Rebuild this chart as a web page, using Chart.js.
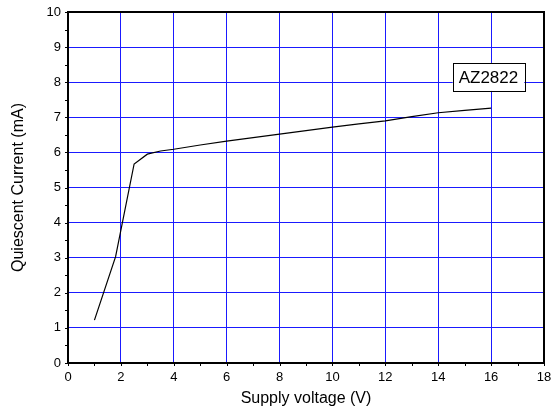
<!DOCTYPE html>
<html>
<head>
<meta charset="utf-8">
<script src="https://cdn.jsdelivr.net/npm/chart.js@4/dist/chart.umd.min.js"></script>
<style>
  html, body { margin: 0; padding: 0; background: #fff; }
  #wrap { width: 551px; height: 417px; }
</style>
</head>
<body>
<div id="wrap"><canvas id="chart" width="551" height="417"></canvas></div>
<script>
// ----------------- DATA -----------------
const voltage = [1.0, 1.8, 2.5, 3.0, 3.5, 4, 5, 6, 7, 8, 9, 10, 11, 12, 13, 14, 15, 16];
const current = [1.22, 3.03, 5.67, 5.95, 6.04, 6.09, 6.21, 6.32, 6.42, 6.52, 6.62, 6.72, 6.81, 6.90, 7.02, 7.13, 7.20, 7.26];
const xTicks = [0, 2, 4, 6, 8, 10, 12, 14, 16, 18];
const yTicks = [0, 1, 2, 3, 4, 5, 6, 7, 8, 9, 10];
const seriesLabel = "AZ2822";
const labelAt = [15.9, 8.15];

const FONT = "Arial, 'Liberation Sans', sans-serif";

// frame, outward minor ticks and the series label box
const framePlugin = {
    id: "frame",
    afterDraw(chart) {
        const ctx = chart.ctx;
        const a = chart.chartArea;
        const xs = chart.scales.x, ys = chart.scales.y;
        ctx.save();
        ctx.strokeStyle = "#000";
        ctx.lineWidth = 1;
        ctx.beginPath();
        for (let v = 0; v <= 18; v += 1) {
            const px = Math.round(xs.getPixelForValue(v)) + 0.5;
            ctx.moveTo(px, a.bottom); ctx.lineTo(px, a.bottom + 3);
        }
        for (let v = 0; v <= 10; v += 0.5) {
            const py = Math.round(ys.getPixelForValue(v)) + 0.5;
            ctx.moveTo(a.left, py); ctx.lineTo(a.left - 3, py);
        }
        ctx.stroke();
        ctx.lineWidth = 2;
        ctx.strokeRect(a.left, a.top, a.right - a.left, a.bottom - a.top);

        // series label
        const cx = xs.getPixelForValue(labelAt[0]);
        const cy = ys.getPixelForValue(labelAt[1]);
        ctx.font = "17px " + FONT;
        const w = ctx.measureText(seriesLabel).width + 12;
        const h = 28;
        ctx.fillStyle = "#fff";
        ctx.fillRect(cx - w / 2, cy - h / 2, w, h);
        ctx.lineWidth = 1;
        ctx.strokeRect(Math.round(cx - w / 2) + 0.5, Math.round(cy - h / 2) + 0.5, Math.round(w), h);
        ctx.fillStyle = "#000";
        ctx.textAlign = "center";
        ctx.textBaseline = "middle";
        ctx.fillText(seriesLabel, cx, cy + 1);
        ctx.restore();
    }
};

// ----------------- CHART -----------------
const ctx = document.getElementById("chart").getContext("2d");
new Chart(ctx, {
    type: "line",
    data: {
        datasets: [{
            label: seriesLabel,
            data: voltage.map((v, i) => ({ x: v, y: current[i] })),
            borderColor: "#000",
            borderWidth: 1.2,
            pointRadius: 0,
            tension: 0,
            fill: false
        }]
    },
    options: {
        responsive: false,
        animation: false,
        layout: { padding: { left: 9, top: 12, right: 7, bottom: 0 } },
        plugins: { legend: { display: false }, tooltip: { enabled: false } },
        scales: {
            x: {
                type: "linear",
                min: 0, max: 18,
                afterBuildTicks: s => { s.ticks = xTicks.map(v => ({ value: v })); },
                afterFit: s => { s.height = 54; s.paddingLeft = 0; s.paddingRight = 0; },
                grid: { color: "#1a1aff", lineWidth: 1, drawTicks: false },
                border: { display: false },
                ticks: { color: "#000", font: { family: FONT, size: 13 }, padding: 7, maxRotation: 0 },
                title: { display: true, text: "Supply voltage (V)", color: "#000",
                         font: { family: FONT, size: 16 }, padding: { top: 2, bottom: 9 } }
            },
            y: {
                type: "linear",
                min: 0, max: 10,
                afterBuildTicks: s => { s.ticks = yTicks.map(v => ({ value: v })); },
                afterFit: s => { s.width = 59; s.paddingTop = 0; s.paddingBottom = 0; },
                grid: { color: "#1a1aff", lineWidth: 1, drawTicks: false },
                border: { display: false },
                ticks: { color: "#000", font: { family: FONT, size: 13 }, padding: 7 },
                title: { display: true, text: "Quiescent Current (mA)", color: "#000",
                         font: { family: FONT, size: 16 }, padding: { top: 0, bottom: 0 } }
            }
        }
    },
    plugins: [framePlugin]
});
</script>
</body>
</html>
